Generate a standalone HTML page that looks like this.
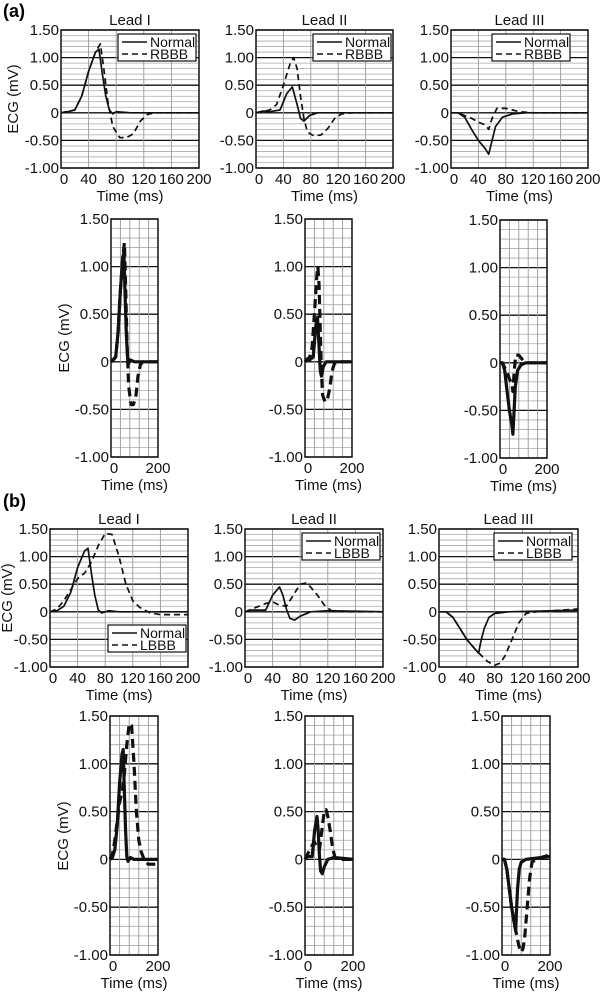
<!DOCTYPE html>
<html><head><meta charset="utf-8">
<style>
html,body{margin:0;padding:0;background:#fff;}
svg{display:block;font-family:"Liberation Sans",Arial,sans-serif;}
</style></head>
<body>
<svg id="fig" width="601" height="993" viewBox="0 0 601 993" xmlns="http://www.w3.org/2000/svg">
<text x="3" y="17" font-size="18" font-weight="bold">(a)</text>
<text x="3" y="507" font-size="18" font-weight="bold">(b)</text>
</svg>
<script>
// Time/value samples (ms, mV)
const aI_normT = [0,10,20,30,40,50,55,60,65,70,75,80,90,100,200];
const aI_normV = [0,0.02,0.05,0.3,0.75,1.1,1.15,0.7,0.3,0.05,-0.02,0.02,0.01,0,0];
const aI_rbbbT = [0,20,30,40,50,57,62,68,75,85,95,105,115,125,135,200];
const aI_rbbbV = [0,0.05,0.3,0.75,1.1,1.25,0.8,0.2,-0.25,-0.45,-0.45,-0.38,-0.15,-0.03,0,0];
const aII_normT = [0,10,20,35,45,53,60,65,70,78,90,200];
const aII_normV = [0,0.03,0.02,0.05,0.35,0.47,0.15,-0.1,-0.15,-0.05,0,0];
const aII_rbbbT = [0,20,30,40,50,55,60,65,70,75,85,95,105,115,125,140,200];
const aII_rbbbV = [0,0.05,0.15,0.5,0.9,1.0,0.8,0.3,-0.1,-0.35,-0.42,-0.4,-0.28,-0.1,-0.02,0,0];
const aIII_normT = [0,10,20,30,40,50,55,60,65,75,90,110,200];
const aIII_normV = [0,0,-0.08,-0.3,-0.5,-0.65,-0.75,-0.5,-0.25,-0.08,-0.02,0,0];
const aIII_rbbbT = [0,10,20,30,40,50,55,60,67,80,90,100,120,200];
const aIII_rbbbV = [0,0,-0.05,-0.1,-0.17,-0.22,-0.3,-0.1,0.08,0.08,0.05,0.02,0,0];
const bI_normT = [0,10,20,30,40,50,55,60,65,70,75,85,100,200];
const bI_normV = [0,0.02,0.1,0.35,0.8,1.1,1.15,0.7,0.3,0.03,-0.02,0.02,0,0];
const bI_lbbbT = [0,10,20,30,40,50,60,70,80,90,100,110,120,130,145,160,200];
const bI_lbbbV = [0,0.05,0.2,0.4,0.6,0.7,0.9,1.2,1.42,1.4,1.0,0.5,0.2,0.08,-0.02,-0.05,-0.05];
const bII_normT = [0,10,30,40,50,55,60,65,72,80,95,120,200];
const bII_normV = [0,0.03,0.03,0.3,0.45,0.3,0.05,-0.12,-0.15,-0.08,0,0.02,0];
const bII_lbbbT = [0,10,20,30,40,50,60,70,80,88,95,105,115,125,140,200];
const bII_lbbbV = [0,0.05,0.1,0.15,0.18,0.12,0.1,0.3,0.5,0.52,0.45,0.3,0.12,0.02,0,0];
const bIII_normT = [0,10,20,30,40,50,57,60,65,72,80,100,200];
const bIII_normV = [0,0,-0.1,-0.3,-0.5,-0.65,-0.75,-0.55,-0.3,-0.1,-0.03,0,0.03];
const bIII_lbbbT = [0,10,20,30,40,50,60,70,80,88,95,105,115,125,140,200];
const bIII_lbbbV = [0,0,-0.1,-0.3,-0.5,-0.65,-0.78,-0.9,-0.97,-0.93,-0.8,-0.5,-0.2,-0.03,0,0.05];
const yTickVals = [1.5,1.0,0.5,0,-0.5,-1.0];
const yTickLabels = ["1.50","1.00","0.50","0","-0.50","-1.00"];
const xTickWide = [0,40,80,120,160,200];
const xTickNarrow = [0,200];

const NS="http://www.w3.org/2000/svg";
const svg=document.getElementById('fig');
function mk(tag,attrs,parent){const e=document.createElementNS(NS,tag);for(const k in attrs)e.setAttribute(k,attrs[k]);(parent||svg).appendChild(e);return e;}

function chart(o){
  const g=mk('g',{});
  
  
  const {x0,x1,y0,y1}=o;
  const sx=t=>x0+(t/200)*(x1-x0);
  const sy=v=>y1-((v+1)/2.5)*(y1-y0);
  for(let i=-10;i<=15;i++){const v=i/10;const y=sy(v);
    const major=(i%5===0);
    const l=mk('line',{x1:x0,x2:x1,y1:y,y2:y,stroke:major?'#111':'#aaa','stroke-width':major?1.3:0.8},g);
    
    }
  for(let t=40;t<200;t+=40){const x=sx(t);
    const l=mk('line',{x1:x,x2:x,y1:y0,y2:y1,stroke:'#999','stroke-width':0.9},g);
    
    }
  const fr=mk('rect',{x:x0,y:y0,width:x1-x0,height:y1-y0,fill:'none',stroke:'#111','stroke-width':1.5},g);
  
  
  yTickVals.forEach((v,i)=>{const t=mk('text',{x:x0-2,y:sy(v)+5,'font-size':15,'text-anchor':'end',fill:'#111'},g);t.textContent=yTickLabels[i];
    
    });
  o.xt.forEach(v=>{const t=mk('text',{x:sx(v)+(v===0?3:0),y:y1+16,'font-size':15,'text-anchor':'middle',fill:'#111'},g);t.textContent=String(v);
    
    });
  const xl=mk('text',{x:(x0+x1)/2,y:y1+33,'font-size':15,'text-anchor':'middle',fill:'#111'},g);xl.textContent='Time (ms)';
  
  
  if(o.ylab){const yl=mk('text',{x:0,y:0,'font-size':15,'text-anchor':'middle',fill:'#111',transform:`translate(${o.ylab[0]},${o.ylab[1]}) rotate(-90)`},g);yl.textContent='ECG (mV)';
    
    }
  if(o.title){const tt=mk('text',{x:(x0+x1)/2,y:y0-5,'font-size':15,'text-anchor':'middle',fill:'#111'},g);tt.textContent=o.title;
    
    }
  const sw=o.narrow?3.2:1.7;
  o.series.forEach(s=>{
    const d=s.t.map((t,i)=>(i?'L':'M')+sx(t).toFixed(1)+','+sy(s.v[i]).toFixed(1)).join('');
    const p=mk('path',{d:d,fill:'none',stroke:'#111','stroke-width':sw,'stroke-linejoin':'round','stroke-dasharray':s.dash?(o.narrow?'9,5':'6,4'):'none'},g);
    
    
  });
  if(o.leg){const [lx,ly]=o.leg;const w=78,h=27;
    const lg=mk('g',{},g);
    
    
    mk('rect',{x:lx,y:ly,width:w,height:h,fill:'#fff',stroke:'#111','stroke-width':1.2},lg);
    mk('line',{x1:lx+4,x2:lx+29,y1:ly+8,y2:ly+8,stroke:'#111','stroke-width':1.6},lg);
    mk('line',{x1:lx+4,x2:lx+29,y1:ly+20,y2:ly+20,stroke:'#111','stroke-width':1.6,'stroke-dasharray':'6,4'},lg);
    const t1=mk('text',{x:lx+32,y:ly+13,'font-size':14,fill:'#111'},lg);t1.textContent='Normal';
    
    
    const t2=mk('text',{x:lx+32,y:ly+25,'font-size':14,fill:'#111'},lg);t2.textContent=o.legName;
    
    
  }
}
const S=(t,v,name,dash)=>({t,v,name,dash});
const aI=[S(aI_normT,aI_normV,'normal-line'),S(aI_rbbbT,aI_rbbbV,'rbbb-line',1)];
const aII=[S(aII_normT,aII_normV,'normal-line'),S(aII_rbbbT,aII_rbbbV,'rbbb-line',1)];
const aIII=[S(aIII_normT,aIII_normV,'normal-line'),S(aIII_rbbbT,aIII_rbbbV,'rbbb-line',1)];
const bI=[S(bI_normT,bI_normV,'normal-line'),S(bI_lbbbT,bI_lbbbV,'lbbb-line',1)];
const bII=[S(bII_normT,bII_normV,'normal-line'),S(bII_lbbbT,bII_lbbbV,'lbbb-line',1)];
const bIII=[S(bIII_normT,bIII_normV,'normal-line'),S(bIII_lbbbT,bIII_lbbbV,'lbbb-line',1)];

chart({name:'a-lead-i',x0:61,x1:199,y0:30,y1:168,xt:xTickWide,series:aI,title:'Lead I',ylab:[18,99],leg:[118,34],legName:'RBBB'});
chart({name:'a-lead-ii',x0:256,x1:393,y0:30,y1:168,xt:xTickWide,series:aII,title:'Lead II',leg:[313,34],legName:'RBBB'});
chart({name:'a-lead-iii',x0:451,x1:588,y0:30,y1:168,xt:xTickWide,series:aIII,title:'Lead III',leg:[492,34],legName:'RBBB'});
chart({name:'a-lead-i-narrow',x0:111,x1:158,y0:219,y1:457,xt:xTickNarrow,series:aI,narrow:1,ylab:[69,338]});
chart({name:'a-lead-ii-narrow',x0:305,x1:352,y0:219,y1:457,xt:xTickNarrow,series:aII,narrow:1});
chart({name:'a-lead-iii-narrow',x0:500,x1:547,y0:220,y1:458,xt:xTickNarrow,series:aIII,narrow:1});
chart({name:'b-lead-i',x0:50,x1:188,y0:529,y1:667,xt:xTickWide,series:bI,title:'Lead I',ylab:[12,598],leg:[108,625],legName:'LBBB'});
chart({name:'b-lead-ii',x0:245,x1:383,y0:529,y1:667,xt:xTickWide,series:bII,title:'Lead II',leg:[302,533],legName:'LBBB'});
chart({name:'b-lead-iii',x0:439,x1:578,y0:529,y1:667,xt:xTickWide,series:bIII,title:'Lead III',leg:[494,533],legName:'LBBB'});
chart({name:'b-lead-i-narrow',x0:110,x1:158,y0:716,y1:955,xt:xTickNarrow,series:bI,narrow:1,ylab:[68,836]});
chart({name:'b-lead-ii-narrow',x0:305,x1:353,y0:716,y1:955,xt:xTickNarrow,series:bII,narrow:1});
chart({name:'b-lead-iii-narrow',x0:502,x1:550,y0:716,y1:955,xt:xTickNarrow,series:bIII,narrow:1});
</script>
</body></html>
